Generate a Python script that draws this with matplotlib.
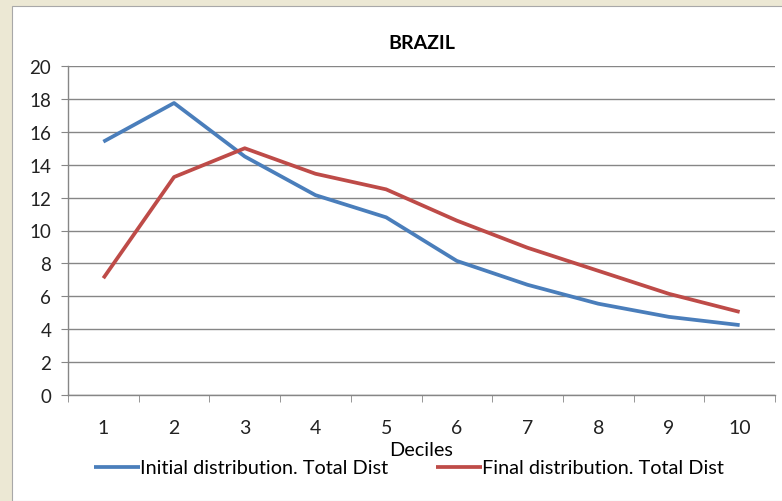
import matplotlib
matplotlib.use("Agg")
import matplotlib.pyplot as plt
from matplotlib.patches import Rectangle
import numpy as np

# data
deciles = [1, 2, 3, 4, 5, 6, 7, 8, 9, 10]
initial_dist = [15.4, 17.75, 14.5, 12.15, 10.8, 8.15, 6.7, 5.55, 4.75, 4.25]
final_dist = [7.1, 13.25, 15.0, 13.45, 12.5, 10.6, 8.95, 7.55, 6.15, 5.05]
y_ticks = [0, 2, 4, 6, 8, 10, 12, 14, 16, 18, 20]

plt.rcParams["font.family"] = ["Lato", "DejaVu Sans"]

fig = plt.figure(figsize=(7.82, 5.02), dpi=100)
fig.patch.set_facecolor("#ece8d4")
# white chart area on top of the beige frame
fig.patches.append(Rectangle((12 / 782, 0), 1, 1 - 7 / 502, transform=fig.transFigure,
                             facecolor="white", edgecolor="#a8a8a8", lw=0.8, zorder=-10))

ax = fig.add_axes([68 / 782, (502 - 396) / 502, (775 - 68) / 782, (396 - 67) / 502])
ax.set_facecolor("none")

ax.plot(deciles, initial_dist, color="#4a7ebb", lw=2.7, label="Initial distribution. Total Dist",
        solid_joinstyle="round", solid_capstyle="butt", zorder=3)
ax.plot(deciles, final_dist, color="#be4b48", lw=2.7, label="Final distribution. Total Dist",
        solid_joinstyle="round", solid_capstyle="butt", zorder=3)

ax.set_xlim(0.5, 10.5)
ax.set_ylim(0, 20)
ax.set_yticks(y_ticks)
ax.set_xticks(deciles)
ax.set_xticks(np.arange(0.5, 11, 1), minor=True)
ax.tick_params(axis="x", which="major", length=0, labelsize=14, pad=17, labelcolor="#222222")
ax.tick_params(axis="x", which="minor", length=5, color="#868686", direction="out")
ax.tick_params(axis="y", length=5, color="#868686", labelsize=13.5, labelcolor="#222222", pad=7)

ax.grid(axis="y", color="#868686", lw=1.0)
ax.set_axisbelow(True)
for s in ["top", "right"]:
    ax.spines[s].set_visible(False)
for s in ["left", "bottom"]:
    ax.spines[s].set_color("#868686")
    ax.spines[s].set_linewidth(1.0)

ax.set_title("BRAZIL", fontsize=14, fontweight="bold", pad=13)
ax.set_xlabel("Deciles", fontsize=14.3, labelpad=4)

fig.legend(loc="center", bbox_to_anchor=(409 / 782, 1 - 469 / 502), ncol=2, frameon=False,
           fontsize=14.3, handlelength=2.3, handletextpad=0.0, columnspacing=2.4)

fig.savefig("out.png", dpi=100)
